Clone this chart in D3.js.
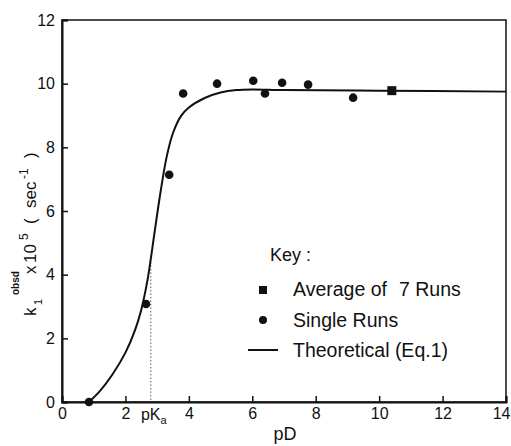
<!DOCTYPE html>
<html>
<head>
<meta charset="utf-8">
<script src="https://cdn.jsdelivr.net/npm/d3@7"></script>
<style>
  body { margin: 0; background: #fff; }
  text { font-family: "Liberation Sans", Arial, sans-serif; fill: #111; }
</style>
</head>
<body>
<div id="chart"></div>
<script>
// single runs (circles)
var singlePD = [0.85, 2.65, 3.38, 3.82, 4.89, 6.03, 6.4, 6.94, 7.76, 9.18];
var singleK  = [0.0, 3.08, 7.14, 9.69, 10.0, 10.09, 9.69, 10.03, 9.97, 9.56];
// average of 7 runs (square)
var avgPD = [10.4];
var avgK  = [9.78];
// theoretical curve
var curvePD = [0.85, 1.2, 1.6, 2.0, 2.3, 2.5, 2.7, 2.8, 2.9, 3.1, 3.3, 3.5, 3.75, 4.0, 4.5, 5.0, 5.5, 6.0, 7, 10, 14];
var curveK  = [0.0, 0.35, 0.88, 1.55, 2.25, 2.9, 3.85, 4.5, 5.2, 6.55, 7.7, 8.45, 8.98, 9.25, 9.55, 9.72, 9.8, 9.82, 9.8, 9.78, 9.75];
// pKa marker
var pKa = 2.8, pKaTop = 4.4;
var xTicks = [0, 2, 4, 6, 8, 10, 12, 14];
var yTicks = [0, 2, 4, 6, 8, 10, 12];

var W = 511, H = 446,
    margin = {top: 20, right: 5, bottom: 44, left: 62};

var svg = d3.select("#chart").append("svg")
    .attr("width", W).attr("height", H);

var x = d3.scaleLinear().domain([0, 14]).range([margin.left, W - margin.right]);
var y = d3.scaleLinear().domain([0, 12]).range([H - margin.bottom, margin.top]);

// frame
svg.append("rect")
    .attr("x", x(0)).attr("y", y(12))
    .attr("width", x(14) - x(0)).attr("height", y(0) - y(12))
    .style("fill", "none").style("stroke", "#111").style("stroke-width", 1.5);

// axes with inward ticks
var gx = svg.append("g")
    .attr("transform", "translate(0," + y(0) + ")")
    .call(d3.axisBottom(x).tickValues(xTicks).tickSize(-6).tickPadding(6).tickFormat(d3.format("d")));
var gy = svg.append("g")
    .attr("transform", "translate(" + x(0) + ",0)")
    .call(d3.axisLeft(y).tickValues(yTicks).tickSize(-6).tickPadding(7).tickFormat(d3.format("d")));
[gx, gy].forEach(function(g){
    g.select(".domain").attr("stroke", "#111").attr("stroke-width", 2);
    g.selectAll(".tick line").attr("stroke", "#111").attr("stroke-width", 1.5);
    g.selectAll(".tick text").style("font-size", "16px").style("font-family", "Liberation Sans, Arial, sans-serif").attr("fill", "#111");
});
// keep the last x label inside the window
gx.selectAll(".tick text").filter(function(d){ return d === 14; })
    .attr("text-anchor", "end").attr("dx", 4);

// pKa label on x axis
var pk = svg.append("text")
    .attr("x", x(pKa) + 3).attr("y", y(0) + 18)
    .attr("text-anchor", "middle").style("font-size", "16px");
pk.append("tspan").text("pK");
pk.append("tspan").text("a").attr("dy", 4).style("font-size", "11px");

// pKa dotted line
svg.append("line")
    .attr("x1", x(pKa)).attr("x2", x(pKa))
    .attr("y1", y(pKaTop)).attr("y2", y(0))
    .attr("stroke", "#555").attr("stroke-width", 1).attr("stroke-dasharray", "1.5,2");

// theoretical curve
var curveData = curvePD.map(function(d, i){ return {pd: d, k: curveK[i]}; });
var line = d3.line()
    .x(function(d){ return x(d.pd); })
    .y(function(d){ return y(d.k); })
    .curve(d3.curveCatmullRom.alpha(0.5));
svg.append("path")
    .attr("d", line(curveData))
    .attr("fill", "none").attr("stroke", "#111").attr("stroke-width", 2);

// single runs
svg.selectAll("circle.single")
    .data(singlePD.map(function(d, i){ return {pd: d, k: singleK[i]}; }))
    .enter().append("circle")
    .attr("class", "single")
    .attr("cx", function(d){ return x(d.pd); })
    .attr("cy", function(d){ return y(d.k); })
    .attr("r", 4.3)
    .attr("fill", "#111");

// average
svg.selectAll("rect.avg")
    .data(avgPD.map(function(d, i){ return {pd: d, k: avgK[i]}; }))
    .enter().append("rect")
    .attr("class", "avg")
    .attr("x", function(d){ return x(d.pd) - 4.5; })
    .attr("y", function(d){ return y(d.k) - 4.5; })
    .attr("width", 9).attr("height", 9)
    .attr("fill", "#111");

// axis titles
svg.append("text")
    .attr("x", (x(0) + x(14)) / 2 + 1).attr("y", H - 6)
    .attr("text-anchor", "middle").style("font-size", "18px")
    .text("pD");

// y title, rotated; tspan x runs up the page
var yl = svg.append("text")
    .attr("transform", "translate(36,0) rotate(-90)")
    .style("font-size", "17px");
yl.append("tspan").attr("x", -316).attr("y", 0).text("k");
yl.append("tspan").attr("x", -305).attr("y", 6).style("font-size", "11px").text("1");
yl.append("tspan").attr("x", -295).attr("y", -17).style("font-size", "10px").style("font-weight", "bold").text("obsd");
yl.append("tspan").attr("x", -274).attr("y", 0).text("x");
yl.append("tspan").attr("x", -263).attr("y", 0).text("10");
yl.append("tspan").attr("x", -240).attr("y", -8).style("font-size", "12px").text("5");
yl.append("tspan").attr("x", -224).attr("y", 0).text("(");
yl.append("tspan").attr("x", -208).attr("y", 0).text("sec");
yl.append("tspan").attr("x", -179).attr("y", -8).style("font-size", "12px").text("-1");
yl.append("tspan").attr("x", -158).attr("y", 0).text(")");

// legend
var lg = svg.append("g");
lg.append("text").attr("x", 270).attr("y", 261).style("font-size", "18px").text("Key :");
lg.append("rect").attr("x", 259).attr("y", 286).attr("width", 8).attr("height", 8).attr("fill", "#111");
var t1 = lg.append("text").attr("x", 293).attr("y", 296).style("font-size", "19.5px");
t1.append("tspan").text("Average of");
t1.append("tspan").attr("dx", 12).text("7 Runs");
lg.append("circle").attr("cx", 263).attr("cy", 320).attr("r", 4).attr("fill", "#111");
lg.append("text").attr("x", 293).attr("y", 327).style("font-size", "19.5px").text("Single Runs");
lg.append("line").attr("x1", 248).attr("x2", 278).attr("y1", 350).attr("y2", 350)
    .attr("stroke", "#111").attr("stroke-width", 2);
lg.append("text").attr("x", 293).attr("y", 357).style("font-size", "19.5px").text("Theoretical (Eq.1)");
</script>
</body>
</html>
